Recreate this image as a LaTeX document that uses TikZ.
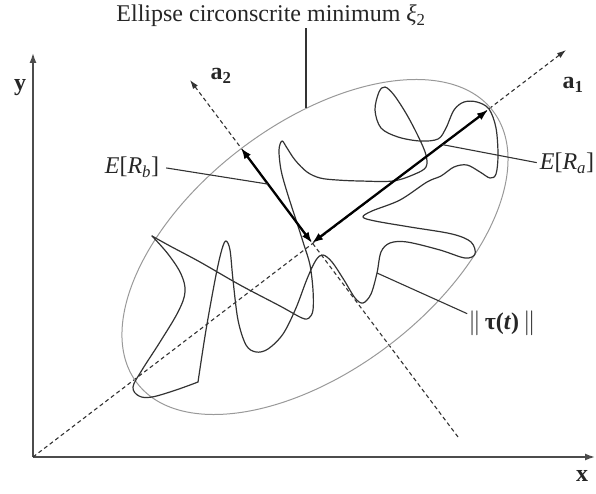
\documentclass[tikz,border=0pt]{standalone}
\usepackage{fontspec}
\setmainfont{Liberation Serif}
\usetikzlibrary{calc,arrows.meta}

\begin{document}
\begin{tikzpicture}[x=1pt, y=-1pt,
        axe/.style={line width=1.5pt, black!70, -{Latex[length=10pt,width=7pt]}},
        axedash/.style={line width=1.1pt, black!80, dash pattern=on 4pt off 3pt, -{Latex[length=9pt,width=6pt]}},
        vecteur/.style={line width=2.3pt, {Latex[length=11pt,width=8pt]}-{Latex[length=11pt,width=8pt]}},
        guide/.style={line width=1.1pt, black!80},
        courbe/.style={line width=1.2pt, black!80, line join=round, line cap=round},
        enveloppe/.style={line width=1pt, black!40},
        etiq/.style={font=\fontsize{24}{28}\selectfont, text=black!85, inner sep=1pt}]
            % Bounding box of the whole figure (pixel grid, y downwards)
            \useasboundingbox (0,0) rectangle (596,494);

            % Reference points
            \coordinate (O) at (33,457);
            \coordinate (Xend) at (595,457);
            \coordinate (Yend) at (33,53);
            \coordinate (A1end) at (566,50);
            \coordinate (A2haut) at (190,80);
            \coordinate (A2bas) at (458,437);
            \coordinate (C) at (312,243);
            \coordinate (Ra) at (488,110);
            \coordinate (Rb) at (241,148);
            \coordinate (E0) at (315,247);
            \coordinate (elltop) at (306,108);
            \coordinate (tauP) at (377,273);
            \coordinate (pRa) at ($(C)!0.74!(Ra)$);
            \coordinate (pRb) at ($(C)!0.62!(Rb)$);

            % Axes x, y
            \draw[axe] (O) -- (Xend);
            \draw[axe] (O) -- (Yend);

            % Principal axes a1, a2
            \draw[axedash] (O) -- (A1end);
            \draw[axedash] (A2bas) -- (A2haut);

            % Minimum enclosing ellipse
            \draw[enveloppe, rotate around={37.4:(E0)}] (E0) ellipse [x radius=224pt, y radius=123pt];

            % Trajectory norm
            \draw[courbe] plot[smooth, tension=0.6] coordinates {
                (152,236) (168,254) (181,274) (185,292) (178,312) (160,342) (142,370)
                (133,387) (139,396) (152,397) (176,390) (198,382)};
            \draw[courbe] plot[smooth, tension=0.55] coordinates {
                (198,382) (206,330) (216,275) (222,249) (226,241) (230,250) (233,280)
                (238,320) (246,345) (256,352) (268,349) (283,334) (296,308) (307,279)
                (316,260) (323,255) (332,262) (344,280) (355,298) (363,303) (371,294)
                (377,273) (381,252) (390,243) (407,242) (440,250) (465,258) (475,254)
                (471,242) (452,234) (410,227) (375,221) (363,217) (372,211) (400,200)
                (427,182) (441,176) (454,167) (467,165) (480,172) (490,178) (496,174)
                (498,155) (496,128) (489,109) (477,102) (464,102) (454,110) (446,128)
                (438,139) (420,141) (398,137) (381,128) (375,110) (379,92) (385,87)
                (394,95) (407,115) (419,138) (426,155) (426,167) (415,174) (393,181)
                (360,181) (337,180) (320,178) (307,172) (295,160) (287,148) (282,141)
                (279,150) (281,170) (287,192) (297,223) (304,245) (310,265) (313,290)
                (313,310) (309,318) (302,318) (280,306) (240,285) (200,262) (170,246)
                (152,236)};

            % Mean radii
            \draw[vecteur] (C) -- (Ra);
            \draw[vecteur] (C) -- (Rb);

            % Labels
            \node[etiq] (titre) at (271,16) {Ellipse circonscrite minimum \textit{ξ}\textsubscript{2}};
            \node[etiq, font=\fontsize{24}{28}\selectfont\bfseries] (ly) at (20,88) {y};
            \node[etiq, font=\fontsize{24}{28}\selectfont\bfseries] (lx) at (582,476) {x};
            \node[etiq] (la1) at (573,85) {\textbf{a}\textsubscript{\textbf{1}}};
            \node[etiq] (la2) at (221,76) {\textbf{a}\textsubscript{\textbf{2}}};
            \node[etiq] (lRb) at (132,167) {\textit{E}[\textit{R}\textsubscript{\textit{b}}]};
            \node[etiq] (lRa) at (567,163) {\textit{E}[\textit{R}\textsubscript{\textit{a}}]};
            \node[etiq] (ltau) at (502,323) {$\|$\,\textbf{τ(\textit{t})}\,$\|$};

            % Leader lines
            \draw[guide] (elltop |- titre.south) -- (elltop);
            \draw[guide, shorten <=6pt] (lRb.east) -- (pRb);
            \draw[guide, shorten <=2pt] (lRa.west) -- (pRa);
            \draw[guide] (ltau.165) -- (tauP);
        \end{tikzpicture}
\end{document}
